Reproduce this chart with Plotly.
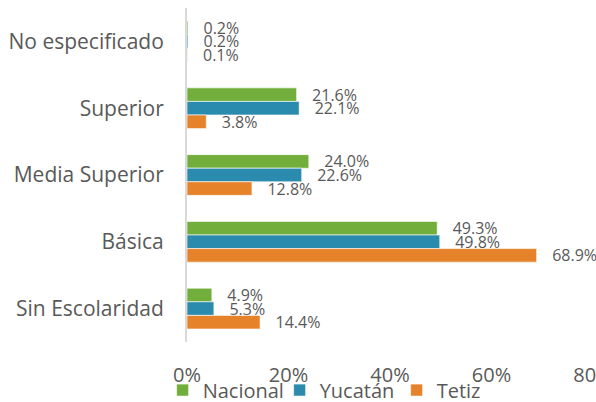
import plotly.graph_objects as go

categories = ["No especificado", "Superior", "Media Superior", "Básica", "Sin Escolaridad"]
nacional = [0.2, 21.6, 24.0, 49.3, 4.9]
yucatan = [0.2, 22.1, 22.6, 49.8, 5.3]
tetiz = [0.1, 3.8, 12.8, 68.9, 14.4]
tick_vals = [0, 20, 40, 60, 80]
tick_text = ["0%", "20%", "40%", "60%", "80%"]

series = [
    ("Nacional", nacional, "#72AE3B"),
    ("Yucatán", yucatan, "#2A8BAE"),
    ("Tetiz", tetiz, "#E6832A"),
]

fig = go.Figure()
for name, vals, color in series:
    fig.add_trace(go.Bar(
        name=name, y=categories, x=vals, orientation="h",
        marker=dict(color=color, line=dict(color="rgba(255,255,255,0.6)", width=1)),
        texttemplate="\u00a0\u00a0\u00a0%{x:.1f}%", textposition="outside",
        constraintext="none", cliponaxis=False,
        textfont=dict(size=16, color="#595959", family="Open Sans"),
    ))

fig.update_layout(
    width=596, height=402,
    margin=dict(l=187, r=3, t=8, b=60, autoexpand=False),
    barmode="group", bargap=0.39, bargroupgap=0,
    plot_bgcolor="white", paper_bgcolor="white",
    font=dict(family="Open Sans", color="#595959", size=20),
    xaxis=dict(range=[0, 80], tickvals=tick_vals, ticktext=tick_text,
               showgrid=False, zeroline=False, showline=False,
               tickfont=dict(size=20, color="#595959"), ticklabelstandoff=19,
               ticklabeloverflow="allow", automargin=False),
    yaxis=dict(autorange="reversed", showgrid=False, zeroline=False,
               showline=True, linecolor="#D9D9D9", linewidth=2,
               tickfont=dict(size=21, color="#595959"), ticklabelstandoff=17,
               automargin=False),
    legend=dict(orientation="h", x=-0.06, xanchor="left",
                y=-0.144, yanchor="middle",
                entrywidth=72,
                font=dict(size=20, color="#595959"), bgcolor="rgba(0,0,0,0)"),
    showlegend=True,
)

fig.write_html("out.html", config={"displayModeBar": False},
               post_script="document.body.style.margin='0';")
